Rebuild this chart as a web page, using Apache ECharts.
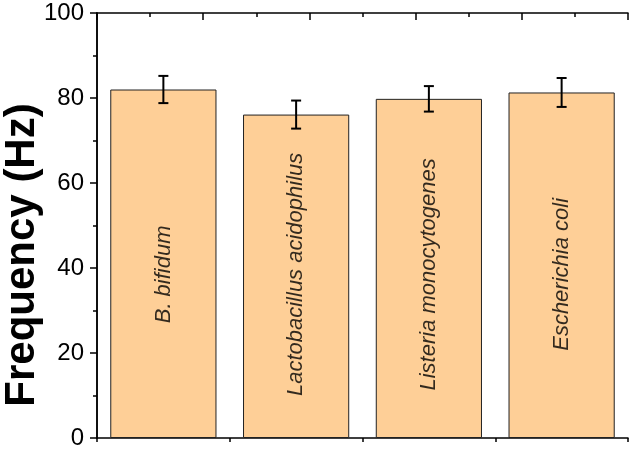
<!DOCTYPE html>
<html>
<head>
<meta charset="utf-8">
<script src="https://cdn.jsdelivr.net/npm/echarts@6/dist/echarts.min.js"></script>
<style>
  html, body { margin: 0; padding: 0; background: #fff; }
  #main { width: 630px; height: 449px; }
</style>
</head>
<body>
<div id="main"></div>
<script>
// bacteria and measured frequency (Hz) with error
var bacteria = ['B. bifidum', 'Lactobacillus acidophilus', 'Listeria monocytogenes', 'Escherichia coli'];
var freqValues = [82.0, 76.1, 79.8, 81.3];
var freqErrors = [3.2, 3.3, 3.0, 3.4];
var yTicks = [0, 20, 40, 60, 80, 100];

var labelLevel = 38.5; // where the rotated names sit
var font = "'Liberation Sans', Arial, sans-serif";

var myChart = echarts.init(document.getElementById('main'));

var axisLineStyle = { color: '#000', width: 1.5 };
var tickStyle = { color: '#000', width: 1.5 };

myChart.setOption({
    backgroundColor: '#fff',
    animation: false,
    grid: { left: 97, right: 2, top: 13, bottom: 11, outerBoundsMode: 'none', containLabel: false },
    graphic: [
        {
            type: 'text',
            x: 22,
            y: 255,
            rotation: Math.PI / 2,
            style: {
                text: 'Frequency (Hz)',
                fontFamily: font,
                fontSize: 42,
                fontWeight: 'bold',
                fill: '#000',
                align: 'center',
                verticalAlign: 'middle'
            }
        }
    ],
    xAxis: [
        {
            type: 'category',
            data: bacteria,
            position: 'bottom',
            axisLine: { lineStyle: axisLineStyle },
            axisTick: { alignWithLabel: true, length: 8, lineStyle: tickStyle },
            axisLabel: { show: false }
        },
        {
            // minor ticks at the category boundaries
            type: 'value',
            position: 'bottom',
            min: 0, max: 4, interval: 1,
            axisLine: { show: false },
            axisTick: { length: 4, lineStyle: tickStyle },
            axisLabel: { show: false },
            splitLine: { show: false }
        },
        {
            type: 'value',
            position: 'top',
            min: 0, max: 10, interval: 2,
            axisLine: { show: true, lineStyle: axisLineStyle },
            axisTick: { inside: true, length: 7, lineStyle: tickStyle },
            minorTick: { show: true, splitNumber: 2, length: 4, lineStyle: tickStyle },
            axisLabel: { show: false },
            splitLine: { show: false }
        }
    ],
    yAxis: [
        {
            type: 'value',
            min: yTicks[0], max: yTicks[yTicks.length - 1], interval: 20,
            axisLine: { show: true, lineStyle: axisLineStyle },
            axisTick: { length: 7, lineStyle: tickStyle },
            minorTick: { show: true, splitNumber: 2, length: 4, lineStyle: tickStyle },
            axisLabel: { fontFamily: font, fontSize: 24, color: '#000', margin: 13 },
            splitLine: { show: false }
        },
        {
            type: 'value',
            position: 'right',
            min: 0, max: 100, interval: 20,
            axisLine: { show: true, lineStyle: axisLineStyle },
            axisTick: { inside: true, length: 7, lineStyle: tickStyle },
            minorTick: { show: true, splitNumber: 2, length: 4, lineStyle: tickStyle },
            axisLabel: { show: false },
            splitLine: { show: false }
        }
    ],
    series: [
        {
            name: 'Frequency',
            type: 'bar',
            barWidth: '80%',
            data: freqValues,
            itemStyle: { color: '#fecf97', borderColor: '#222', borderWidth: 1 },
            z: 2
        },
        {
            name: 'Error',
            type: 'custom',
            data: freqValues.map(function (v, i) { return [i, v, freqErrors[i]]; }),
            renderItem: function (params, api) {
                var x = api.value(0);
                var hi = api.coord([x, api.value(1) + api.value(2)]);
                var lo = api.coord([x, api.value(1) - api.value(2)]);
                var w = 5;
                var style = { stroke: '#000', lineWidth: 2 };
                return {
                    type: 'group',
                    children: [
                        { type: 'line', shape: { x1: hi[0], y1: hi[1], x2: lo[0], y2: lo[1] }, style: style },
                        { type: 'line', shape: { x1: hi[0] - w, y1: hi[1], x2: hi[0] + w, y2: hi[1] }, style: style },
                        { type: 'line', shape: { x1: lo[0] - w, y1: lo[1], x2: lo[0] + w, y2: lo[1] }, style: style }
                    ]
                };
            },
            z: 5
        },
        {
            name: 'Names',
            type: 'scatter',
            symbolSize: 1,
            itemStyle: { color: 'rgba(0,0,0,0)' },
            data: bacteria.map(function (b, i) { return [i, labelLevel]; }),
            label: {
                show: true,
                position: 'inside',
                rotate: 90,
                fontFamily: font,
                fontStyle: 'italic',
                fontSize: 22,
                color: '#000',
                formatter: function (p) { return bacteria[p.dataIndex]; }
            },
            z: 4
        }
    ]
});
</script>
</body>
</html>
